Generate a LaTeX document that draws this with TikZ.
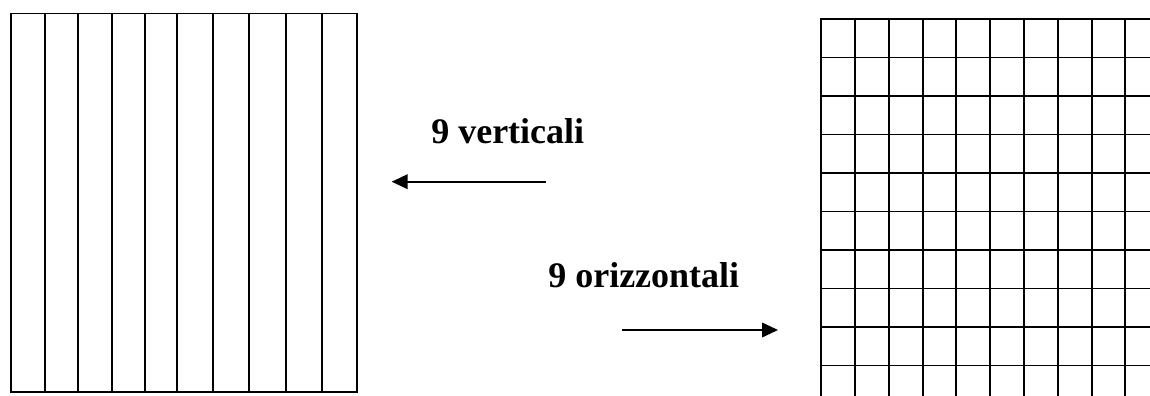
\documentclass[tikz,border=0pt]{standalone}
\usepackage{fontspec}
\setmainfont{Liberation Serif}
\usetikzlibrary{arrows.meta}
\tikzset{
  gridline/.style={line width=1.45pt, line cap=rect},
  label/.style={font=\fontsize{27}{30}\selectfont\bfseries, inner sep=0pt, anchor=base west},
  pointer/.style={line width=1.3pt, -{Triangle[length=12pt,width=11pt]}}
}
\begin{document}
\begin{tikzpicture}[x=0.75pt,y=-0.75pt]
  \useasboundingbox (0,0) rectangle (1150,396);
  \clip (0,0) rectangle (1150,396);

  % left panel: frame cut by vertical strips
  \draw[gridline] (11,13.5) rectangle (357,392);
  \foreach \x in {44.7,78,111.7,145,176.7,212.7,249.3,285.7,322}
    \draw[gridline] (\x,13.5) -- (\x,392);

  % right panel: square grid running off the edge
  \foreach \x in {821,855,889.3,923,956.3,990.3,1024,1058,1091.7,1125.3}
    \draw[gridline] (\x,19) -- (\x,400);
  \foreach \k in {0,...,9}
    \draw[gridline] (821,19+\k*38.5) -- (1155,19+\k*38.5);

  % captions
  \node[label] (vlabel) at (431,143) {9 verticali};
  \node[label] (olabel) at (548,287) {9 orizzontali};

  % arrows
  \coordinate (vstart) at (545.7,181.7);
  \coordinate (vend) at (391.7,181.7);
  \coordinate (ostart) at (622,330);
  \coordinate (oend) at (778,330);
  \draw[pointer] (vstart) -- (vend);
  \draw[pointer] (ostart) -- (oend);
\end{tikzpicture}
\end{document}
